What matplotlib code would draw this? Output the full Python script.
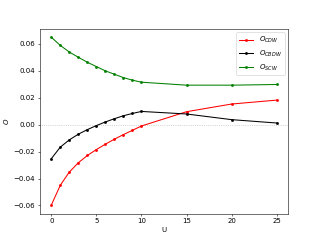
import matplotlib
matplotlib.use("Agg")
import matplotlib.pyplot as plt

U = [0, 1, 2, 3, 4, 5, 6, 7, 8, 9, 10, 15, 20, 25]
O_CDW = [-0.0598, -0.0450, -0.0352, -0.0283, -0.0229, -0.0185, -0.0145,
         -0.0108, -0.0074, -0.0042, -0.0010, 0.0096, 0.0153, 0.0182]
O_CBDW = [-0.0253, -0.0167, -0.0113, -0.0071, -0.0037, -0.0007, 0.0020,
          0.0044, 0.0066, 0.0083, 0.0098, 0.0079, 0.0037, 0.0012]
O_SCW = [0.0649, 0.0588, 0.0539, 0.0500, 0.0463, 0.0431, 0.0399,
         0.0374, 0.0349, 0.0330, 0.0315, 0.0293, 0.0293, 0.0298]

fig, ax = plt.subplots(figsize=(6.4, 4.8), dpi=50)
ax.axhline(0, color="gray", linestyle=":", linewidth=1, alpha=0.6)
ax.plot(U, O_CDW, color="red", marker=".", label=r"$O_{CDW}$")
ax.plot(U, O_CBDW, color="black", marker=".", label=r"$O_{CBDW}$")
ax.plot(U, O_SCW, color="green", marker=".", label=r"$O_{SCW}$")
ax.set_xlabel("U")
ax.set_ylabel(r"$O$")
ax.legend(loc="upper right")
fig.savefig("out.png")
